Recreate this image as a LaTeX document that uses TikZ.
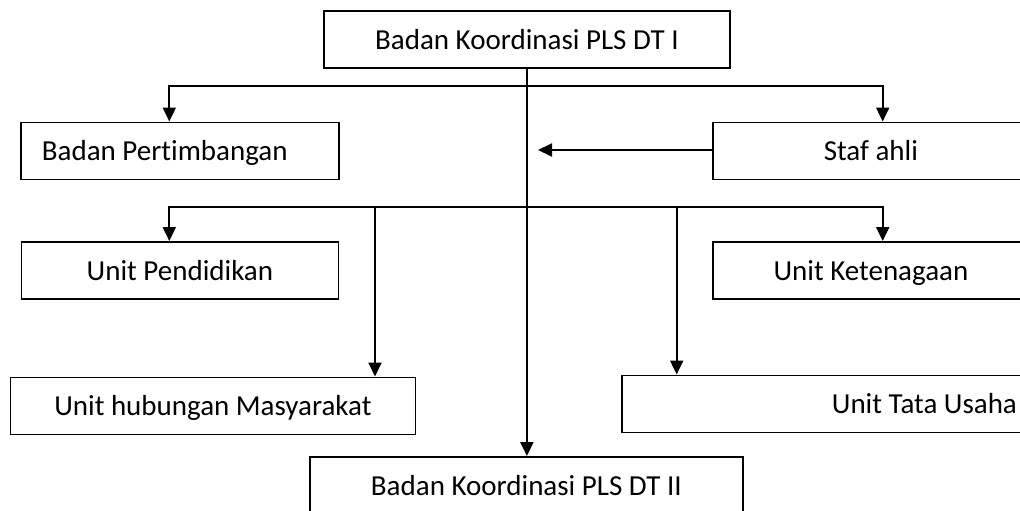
\documentclass[tikz,border=0pt]{standalone}
\usepackage{fontspec}
\setmainfont{Carlito}[Ligatures=NoCommon]
\usetikzlibrary{arrows.meta}
\begin{document}
\begin{tikzpicture}[x=1pt,y=-1pt,
  box/.style={draw, line width=1.8pt, rectangle, inner sep=0pt, anchor=north west,
    font=\fontsize{29}{34}\selectfont, text height=22pt, text depth=2pt, minimum height=57pt},
  arr/.style={line width=2pt, -{Triangle[length=14pt,width=13pt]}}]
\useasboundingbox (0,0) rectangle (1020,511);
\clip (0,0) rectangle (1020,511);
\node[box, minimum width=406pt] (top) at (323,10.5) {Badan Koordinasi PLS DT I};
\node[box, minimum width=318pt] (bp) at (20,121.5) {\makebox[276pt][l]{Badan Pertimbangan}};
\node[box, minimum width=316pt] (sa) at (712,121.5) {Staf ahli};
\node[box, minimum width=317pt] (up) at (20.5,241) {Unit Pendidikan};
\node[box, minimum width=316pt] (uk) at (712,241) {Unit Ketenagaan};
\node[box, minimum width=405pt] (uh) at (9.5,376.5) {Unit hubungan Masyarakat};
\node[box, minimum width=605pt] (ut) at (621,374.5) {Unit Tata Usaha};
\node[box, minimum width=433pt] (dt) at (309,456) {Badan Koordinasi PLS DT II};
\coordinate (j1) at (526,85.7);
\coordinate (j2) at (526,206.5);
\coordinate (sat) at (538,150);
\draw[arr] (top.south) -- (top.south |- dt.north);
\draw[arr] (j1) -| ([xshift=149.3pt]bp.north west);
\draw[arr] (j1) -| ([xshift=170.7pt]sa.north west);
\draw[arr] (sa.west |- sat) -- (sat);
\draw[arr] (j2) -| ([xshift=148.8pt]up.north west);
\draw[arr] (j2) -| ([xshift=170.7pt]uk.north west);
\draw[arr] (j2) -| ([xshift=365.5pt]uh.north west);
\draw[arr] (j2) -| ([xshift=55.7pt]ut.north west);
\end{tikzpicture}
\end{document}
